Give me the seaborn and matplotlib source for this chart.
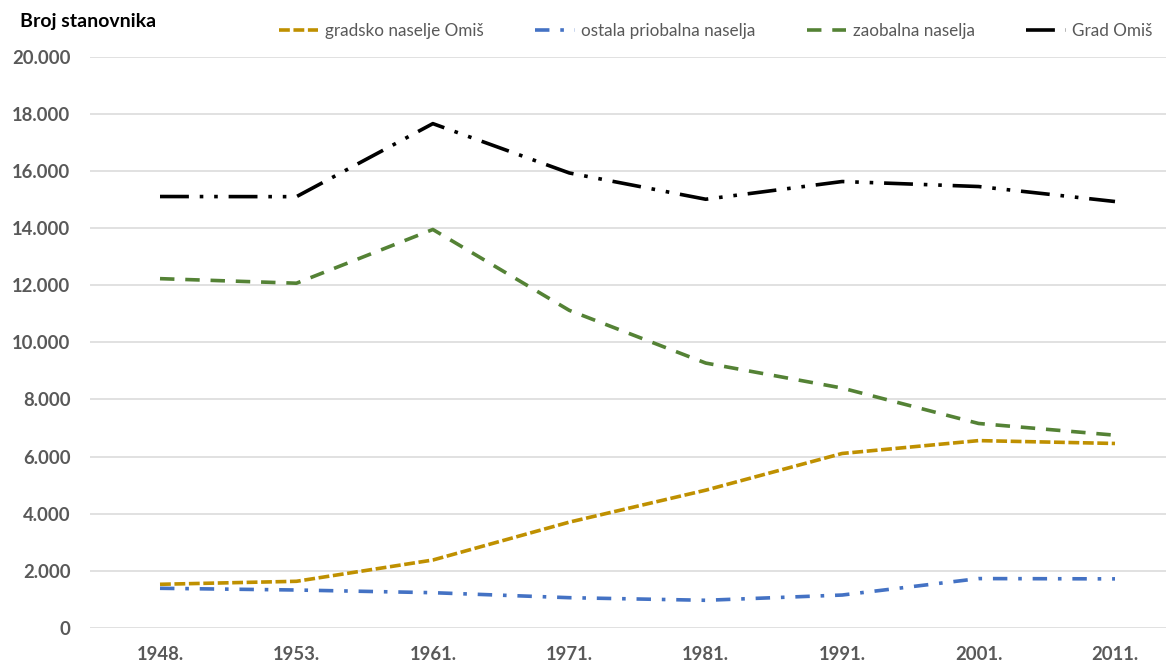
import numpy as np
import pandas as pd
import matplotlib
matplotlib.use("Agg")
import matplotlib.pyplot as plt
import seaborn as sns

# ---- data ----
years = ["1948.", "1953.", "1961.", "1971.", "1981.", "1991.", "2001.", "2011."]
gradsko = [1530, 1635, 2380, 3706, 4825, 6110, 6560, 6460]
ostala = [1390, 1330, 1236, 1061, 970, 1154, 1730, 1720]
zaobalna = [12230, 12070, 13951, 11120, 9275, 8400, 7160, 6750]
grad_omis = [15105, 15100, 17657, 15930, 15010, 15630, 15455, 14930]

series_names = ["gradsko naselje Omiš", "ostala priobalna naselja", "zaobalna naselja", "Grad Omiš"]
series_values = [gradsko, ostala, zaobalna, grad_omis]
y_ticks = [0, 2000, 4000, 6000, 8000, 10000, 12000, 14000, 16000, 18000, 20000]
y_label = "Broj stanovnika"

colors = ["#BF9000", "#4472C4", "#548235", "#000000"]
styles = [(0, (3, 1)), (0, (4, 3, 1, 3)), (0, (4, 3)), (0, (8, 3, 1, 3, 1, 3))]

sns.set_style("white")
plt.rcParams["font.family"] = ["Lato", "DejaVu Sans"]

fig = plt.figure(figsize=(11.66, 6.64), dpi=100)
ax = fig.add_axes([90 / 1166, 36 / 664, 1 - 90 / 1166, (628 - 56.7) / 664])

pos = np.arange(len(years))
for name, vals, col, ls in zip(series_names, series_values, colors, styles):
    df = pd.DataFrame({"x": pos, "y": vals})
    sns.lineplot(data=df, x="x", y="y", ax=ax, color=col, linestyle=ls,
                 linewidth=2.6, dash_capstyle="butt", legend=False, label=name)

ax.set_ylim(0, 20000)
ax.set_xlim(-70 / 136.43, 7 + 51 / 136.43)
ax.set_yticks(y_ticks)
ax.set_yticklabels([f"{v:,.0f}".replace(",", ".") for v in y_ticks])
ax.set_xticks(pos)
ax.set_xticklabels(years)
for sp in ax.spines.values():
    sp.set_visible(False)
ax.yaxis.grid(True, color="#D9D9D9", linewidth=1.1)
ax.xaxis.grid(False)
ax.set_axisbelow(True)
ax.tick_params(axis="both", length=0, colors="#595959", labelsize=13.3)
ax.tick_params(axis="y", pad=14)
ax.tick_params(axis="x", pad=13)
for lab in ax.get_xticklabels() + ax.get_yticklabels():
    lab.set_fontweight("bold")
ax.set_xlabel("")
ax.set_ylabel("")

fig.text(20 / 1166, 1 - 21 / 664, y_label, fontsize=14, fontweight="bold",
         color="black", ha="left", va="center")

handles = ax.get_lines()[:4]
leg = fig.legend(handles, series_names, loc="center", bbox_to_anchor=(716 / 1166, 1 - 31 / 664),
                 ncol=4, frameon=False, fontsize=12.3, handlelength=2.3, handletextpad=0.4,
                 columnspacing=3.0, labelcolor="#595959")

fig.savefig("out.png", dpi=100)
